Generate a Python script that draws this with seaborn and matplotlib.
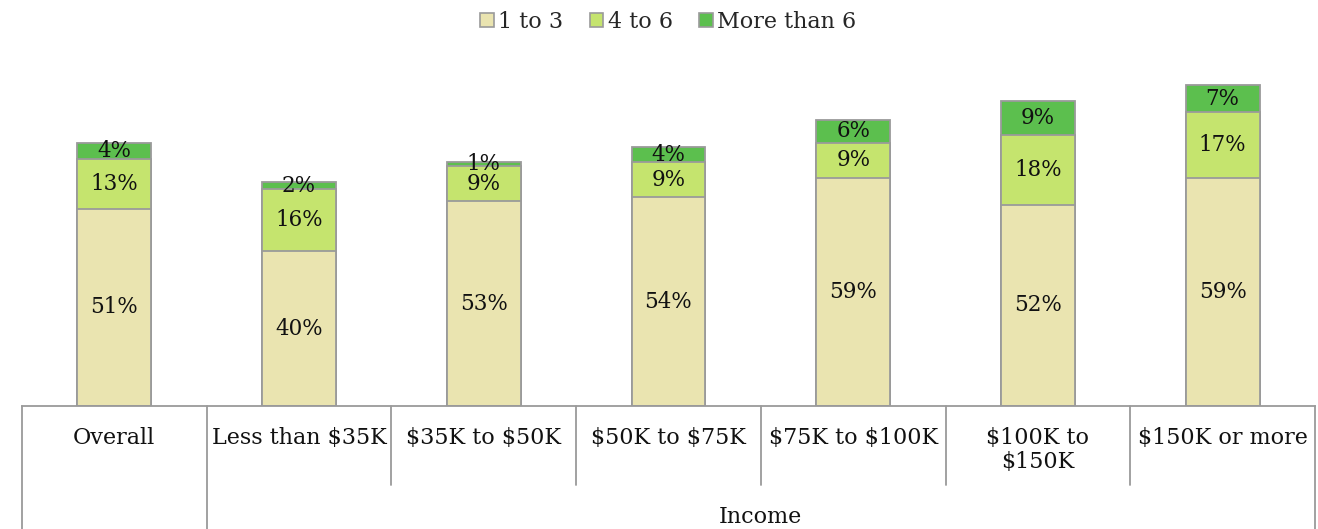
import numpy as np
import seaborn as sns
import matplotlib.pyplot as plt
from matplotlib.patches import Patch
from matplotlib.transforms import blended_transform_factory

categories = ["Overall", "Less than $35K", "$35K to $50K", "$50K to $75K",
              "$75K to $100K", "$100K to\n$150K", "$150K or more"]
series_names = ["1 to 3", "4 to 6", "More than 6"]
one_to_three = [51, 40, 53, 54, 59, 52, 59]
four_to_six = [13, 16, 9, 9, 9, 18, 17]
more_than_six = [4, 2, 1, 4, 6, 9, 7]
group_label = "Income"

colors = ["#EAE4B0", "#C5E46E", "#5CBF4E"]
edge = "#9A9A9A"

sns.set_theme(style="white")
plt.rcParams["font.family"] = ["DejaVu Serif"]
plt.rcParams["text.parse_math"] = False

fig = plt.figure(figsize=(13.18, 5.29), dpi=100)
ax = fig.add_axes([22 / 1318, 123 / 529, 1293 / 1318, 348 / 529])

layers = [one_to_three, four_to_six, more_than_six]
cum = np.cumsum(np.array(layers), axis=0)

# draw tallest cumulative first so lower segments sit on top
for i in reversed(range(3)):
    sns.barplot(x=categories, y=cum[i], color=colors[i], ax=ax, width=0.4,
                edgecolor=edge, linewidth=1.3, saturation=1, order=categories)

for i in range(3):
    bottoms = cum[i] - np.array(layers[i])
    for j, v in enumerate(layers[i]):
        ax.text(j, bottoms[j] + v / 2, f"{v}%", ha="center", va="center",
                fontsize=15.5, color="#111111")

ax.set_ylim(0, 90)
ax.set_xlim(-0.5, 6.5)
ax.set_yticks([])
ax.set_ylabel("")
for s in ["top", "right", "left"]:
    ax.spines[s].set_visible(False)
ax.spines["bottom"].set_color(edge)
ax.spines["bottom"].set_linewidth(1.3)
ax.tick_params(axis="x", length=0, pad=15, labelsize=16, labelcolor="#111111")
ax.set_xticks(range(len(categories)))
ax.set_xticklabels(categories, va="top", linespacing=1.1)

# table-style grid beneath the axis
tr = blended_transform_factory(ax.transData, ax.transAxes)
for x in np.arange(-0.5, 7.0, 1.0):
    low = -0.36 if x in (-0.5, 0.5, 6.5) else -0.227
    ax.plot([x, x], [0, low], color=edge, lw=1.3, transform=tr, clip_on=False)
ax.text(3.5, -0.318, group_label, ha="center", va="center", fontsize=16,
        color="#111111", transform=tr)

handles = [Patch(facecolor=c, edgecolor=edge, linewidth=1.2) for c in colors]
fig.legend(handles, series_names, loc="center", bbox_to_anchor=(0.507, 1 - 22 / 529),
           ncol=3, frameon=False, fontsize=16, handlelength=0.6, handleheight=0.6,
           handletextpad=0.2, columnspacing=1.2)

fig.savefig("out.png", dpi=100)
